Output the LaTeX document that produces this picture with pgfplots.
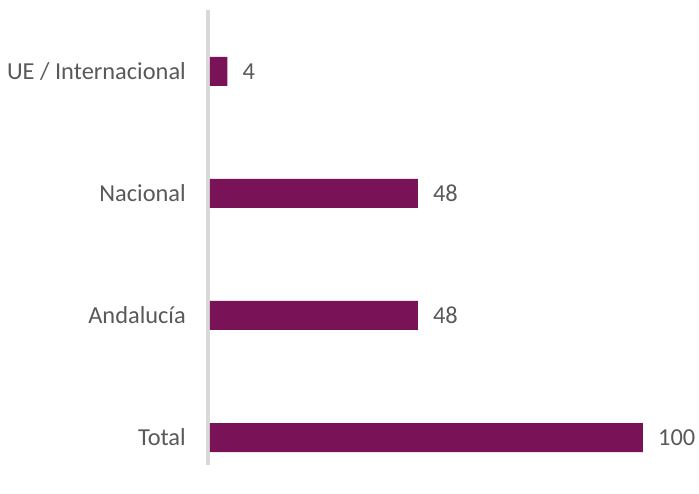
\documentclass[border=0pt]{standalone}
\usepackage{fontspec}
\setmainfont{Carlito}
\usepackage{pgfplots}
\pgfplotsset{compat=1.18}
\definecolor{barc}{HTML}{7A1257}
\definecolor{axc}{HTML}{D9D9D9}
\definecolor{txt}{HTML}{595959}
\begin{document}
\begin{tikzpicture}
\useasboundingbox (-208pt,-28pt) rectangle (491pt,465pt);
\begin{axis}[
  scale only axis,
  width=478.3pt, height=455pt,
  xmin=-0.46, xmax=110,
  ymin=-0.2254, ymax=3.504,
  xbar, bar width=29pt,
  axis lines*=left,
  x axis line style={draw=none},
  y axis line style={line width=4pt, draw=axc},
  xtick=\empty,
  ytick={0,1,2,3},
  yticklabels={Total, Andalucía, Nacional, UE / Internacional},
  major tick length=0pt,
  yticklabel style={font=\fontsize{24.4}{28}\selectfont, text=txt, inner sep=0pt, anchor=east, xshift=-22pt},
  nodes near coords,
  point meta=x,
  nodes near coords style={font=\fontsize{24.4}{28}\selectfont, text=txt, inner sep=0pt, anchor=west, xshift=15pt, /pgf/number format/assume math mode=true},
  clip=false,
]
\addplot[fill=barc, draw=none] coordinates {(100,0) (48,1) (48,2) (4,3)};
\end{axis}
\end{tikzpicture}
\end{document}
